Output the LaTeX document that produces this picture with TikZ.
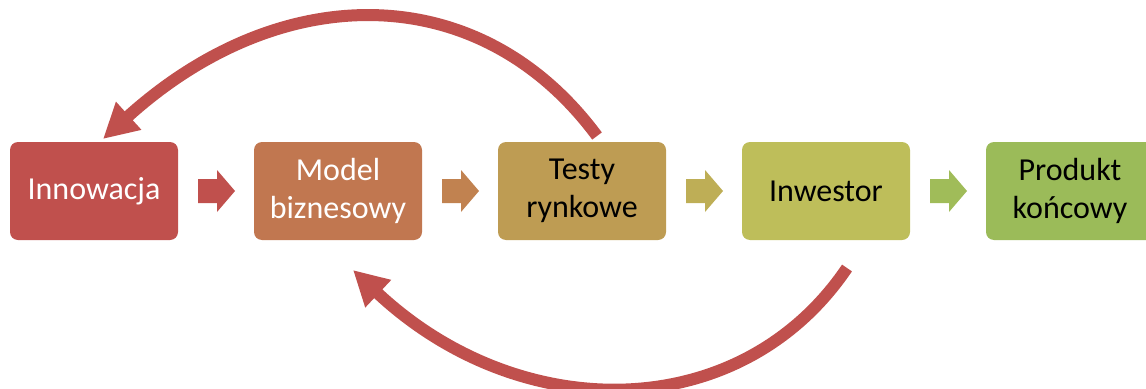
\documentclass[tikz,border=0pt]{standalone}
\usepackage{fontspec}
\setmainfont{Carlito}
\usetikzlibrary{arrows.meta}
\definecolor{c1}{RGB}{192,80,77}
\definecolor{c2}{RGB}{193,119,80}
\definecolor{c3}{RGB}{190,156,83}
\definecolor{c4}{RGB}{190,190,90}
\definecolor{c5}{RGB}{155,187,89}
\definecolor{a2}{RGB}{193,130,80}
\definecolor{a3}{RGB}{190,174,86}
\definecolor{a4}{RGB}{160,188,89}
\tikzset{
  boxnode/.style={rounded corners=6pt, minimum width=126pt, minimum height=73.5pt,
    inner sep=0pt, align=center, font=\fontsize{24}{28.5}\selectfont},
  loopline/.style={line width=9pt, draw=c1, -{Triangle[length=26pt,width=26.5pt]}},
}
\begin{document}
\begin{tikzpicture}[x=0.75pt,y=-0.75pt]
\useasboundingbox (0,0) rectangle (1146,389);
\clip (0,0) rectangle (1146,389);
\node[boxnode, fill=c1, text=white] (b1) at (94,191) {Innowacja};
\node[boxnode, fill=c2, text=white] (b2) at (338,191) {Model\\biznesowy};
\node[boxnode, fill=c3, text=black] (b3) at (582,191) {Testy\\rynkowe};
\node[boxnode, fill=c4, text=black] (b4) at (826,191) {Inwestor};
\node[boxnode, fill=c5, text=black] (b5) at (1070,191) {Produkt\\końcowy};
% block arrows
\foreach \i/\col in {0/c1,1/a2,2/a3,3/a4}{
  \fill[\col] ({198+244*\i},179) -- ({217+244*\i},179) -- ({217+244*\i},170)
     -- ({235+244*\i},191) -- ({217+244*\i},212) -- ({217+244*\i},203)
     -- ({198+244*\i},203) -- cycle;
}
\coordinate (t0) at (597,136);
\coordinate (t1) at (103,139);
\coordinate (u0) at (847,268);
\coordinate (u1) at (353,270);
\draw[loopline] (t0) .. controls (480,-22) and (281,-22) .. (t1);
\draw[loopline] (u0) .. controls (740,426) and (519,426) .. (u1);
\end{tikzpicture}
\end{document}
